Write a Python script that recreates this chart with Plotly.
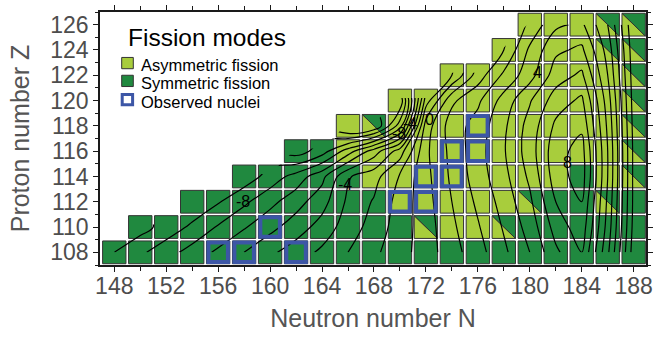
import plotly.graph_objects as go

# ---------------- data ----------------
N_VALUES = [148, 150, 152, 154, 156, 158, 160, 162, 164, 166, 168,
            170, 172, 174, 176, 178, 180, 182, 184, 186, 188]
Z_VALUES = [108, 110, 112, 114, 116, 118, 120, 122, 124, 126]
N_TICKS = [148, 152, 156, 160, 164, 168, 172, 176, 180, 184, 188]
Z_TICKS = [108, 110, 112, 114, 116, 118, 120, 122, 124, 126]

# first neutron number present in each proton row
ROW_FIRST_N = [148, 150, 154, 158, 162, 166, 170, 174, 178, 180]
# fission mode per cell: A = asymmetric, S = symmetric, T = mixed (split cell)
ROW_MODES = [
    "SSSSSSSSSSSSSSSSSSSSS",
    "SSSSSSSSSSSTAATSSSSS",
    "SSSSSSSSAAAAATSSTS",
    "SSSSSAAAAAAAASAT",
    "SSAAAAAAAAAAAT",
    "ATAAAAAAAAAT",
    "AAAAAAAAAT",
    "AAAAAAAT",
    "AAAATT",
    "AAATT",
]
# contour field values per row (from the first nucleus of the row to N=188)
CONTOUR_ROWS = [
    [-10, -9.2, -8.4, -7.6, -6.8, -6.0, -5.2, -4.5, -3.8, -3.0, -2.2, -1.4, -0.5, 0.6, 1.6, 2.8, 4.0, 5.8, 7.0, 3.2, -1.5],
    [-10.4, -9.6, -8.8, -7.9, -7.1, -6.3, -5.5, -4.6, -3.5, -2.6, -1.5, -0.5, 0.8, 1.9, 3.1, 4.4, 6.4, 7.6, 3.6, -1.3],
    [-9.8, -9.1, -8.2, -7.3, -6.4, -5.4, -3.8, -2.9, -1.6, -0.4, 1.0, 2.2, 3.4, 4.8, 7.0, 8.0, 3.8, -1.2],
    [-9.6, -8.6, -7.6, -6.3, -4.1, -3.4, -1.9, -0.3, 1.2, 2.5, 3.7, 5.2, 7.5, 8.5, 4.0, -1.2],
    [-10.5, -9.5, -7.5, -5.5, -3.5, -0.2, 1.3, 2.6, 3.9, 5.5, 7.6, 8.4, 4.0, -1.2],
    [-12.5, -12, -8.5, -0.5, 1.5, 2.4, 3.8, 5.4, 7.2, 7.8, 3.8, -1.3],
    [-10.8, -2.5, 0.8, 1.8, 3.4, 4.9, 6.5, 7.2, 3.5, -1.4],
    [-2.0, 0.5, 2.2, 3.6, 5.5, 6.2, 3.0, -1.5],
    [1.0, 3.2, 4.8, 5.2, 2.6, -1.6],
    [2.2, 3.8, 4.2, 2.0, -1.8],
]
# observed nuclei
OBS_N = [156, 158, 162, 160, 170, 172, 172, 174, 174, 176, 176]
OBS_Z = [108, 108, 108, 110, 112, 112, 114, 114, 116, 116, 118]
# contour labels
LABEL_TEXT = ["-8", "-4", "-8", "-4", "0", "4", "8"]
LABEL_N = [157.9, 165.8, 169.9, 170.8, 172.3, 180.6, 182.9]
LABEL_Z = [112.0, 113.4, 117.4, 118.2, 118.5, 122.2, 115.1]

LEGEND_TITLE = "Fission modes"
LEGEND_LABELS = ["Asymmetric fission", "Symmetric fission", "Observed nuclei"]

# ---------------- style ----------------
LIGHT = "#a8cd3c"
DARK = "#20893f"
BLUE = "#3c56a6"
EDGE = "#333333"
HX, HY = 0.9, 0.9
X_RANGE = [146.9, 188.95]
Y_RANGE = [107.0, 127.0]
W, H = 658, 340
ML, MR, MT, MB = 100, 12, 5, 75
PW, PH = W - ML - MR, H - MT - MB
FONT = "Liberation Sans, Arial, sans-serif"


def px_to_paper(px, py):
    return (px - ML) / PW, (H - MB - py) / PH


def path(pts):
    return "M " + " L ".join(f"{x},{y}" for x, y in pts) + " Z"


fig = go.Figure()
shapes = []
for z, n0, modes in zip(Z_VALUES, ROW_FIRST_N, ROW_MODES):
    for i, m in enumerate(modes):
        n = N_VALUES[N_VALUES.index(n0) + i]
        x0, x1, y0, y1 = n - HX, n + HX, z - HY, z + HY
        if m == "T":
            polys = [([(x0, y1), (x0, y0), (x1, y0)], LIGHT),
                     ([(x0, y1), (x1, y1), (x1, y0)], DARK)]
        else:
            polys = [([(x0, y0), (x1, y0), (x1, y1), (x0, y1)], LIGHT if m == "A" else DARK)]
        for pts, col in polys:
            shapes.append(dict(type="path", xref="x", yref="y", path=path(pts),
                               fillcolor=col, line=dict(color=EDGE, width=1),
                               layer="below"))

# contour field
zgrid = []
for n0, vals in zip(ROW_FIRST_N, CONTOUR_ROWS):
    pad = N_VALUES.index(n0)
    row = [None] * pad + list(vals)
    assert len(row) == len(N_VALUES)
    zgrid.append(row)

fig.add_trace(go.Contour(
    x=N_VALUES, y=Z_VALUES, z=zgrid,
    contours=dict(coloring="none", start=-11, end=9, size=1, showlabels=False),
    line=dict(color="black", width=1.2, smoothing=1.0),
    showscale=False, hoverinfo="skip",
))

# white mask over the region with no nuclei
mx, my = [X_RANGE[0] - 2], [Y_RANGE[1] + 2]
for z, n0 in reversed(list(zip(Z_VALUES, ROW_FIRST_N))):
    top = z + 1 if z != Z_VALUES[-1] else Y_RANGE[1] + 2
    mx += [n0 - 1, n0 - 1]
    my += [top, z - 1]
mx.append(X_RANGE[0] - 2)
my.append(Z_VALUES[0] - 1)
fig.add_trace(go.Scatter(x=mx, y=my, mode="lines", fill="toself",
                         fillcolor="white", line=dict(width=0, color="white"),
                         hoverinfo="skip", showlegend=False))

# observed nuclei
fig.add_trace(go.Scatter(
    x=OBS_N, y=OBS_Z, mode="markers",
    marker=dict(symbol="square-open", size=19.5, color=BLUE,
                line=dict(width=4, color=BLUE)),
    hoverinfo="skip", showlegend=False,
))

annotations = []
for t, n, z in zip(LABEL_TEXT, LABEL_N, LABEL_Z):
    annotations.append(dict(x=n, y=z, xref="x", yref="y", text=t, showarrow=False,
                            borderpad=0,
                            font=dict(family=FONT, size=16, color="black")))

# legend (drawn manually)
tx, ty = px_to_paper(127, 31.0)
annotations.append(dict(x=tx, y=ty, xref="paper", yref="paper", text=LEGEND_TITLE,
                        showarrow=False, xanchor="left", yanchor="middle", borderpad=0,
                        font=dict(family=FONT, size=24.5, color="black")))
item_text_y = [59.0, 78.0, 97.0]
item_box_y = [57.5, 75.8, 95.0]
for k, (lab, yt, yb) in enumerate(zip(LEGEND_LABELS, item_text_y, item_box_y)):
    ax, ay = px_to_paper(140.0, yt)
    annotations.append(dict(x=ax, y=ay, xref="paper", yref="paper", text=lab,
                            showarrow=False, xanchor="left", yanchor="middle",
                            borderpad=0,
                            font=dict(family=FONT, size=16.5, color="black")))
    if k < 2:
        half = 5.8
        x0, y0 = px_to_paper(127.5 - half, yb + half)
        x1, y1 = px_to_paper(127.5 + half, yb - half)
        shapes.append(dict(type="rect", xref="paper", yref="paper", x0=x0, x1=x1,
                           y0=y0, y1=y1, fillcolor=LIGHT if k == 0 else DARK,
                           line=dict(color=EDGE, width=1), layer="above"))
    else:
        half = 5.2
        x0, y0 = px_to_paper(127.4 - half, yb + half)
        x1, y1 = px_to_paper(127.4 + half, yb - half)
        shapes.append(dict(type="rect", xref="paper", yref="paper", x0=x0, x1=x1,
                           y0=y0, y1=y1, fillcolor="white",
                           line=dict(color=BLUE, width=3), layer="above"))

axis_common = dict(
    showline=True, linecolor="#1a1a1a", linewidth=1.5, mirror="ticks",
    ticks="outside", ticklen=5, tickwidth=1, tickcolor="#1a1a1a",
    showgrid=False, zeroline=False,
    tickfont=dict(family=FONT, size=23, color="#4d4d4d"),
)
fig.update_xaxes(
    range=X_RANGE, tickvals=N_TICKS, ticklabelstandoff=-5,
    minor=dict(tickvals=N_VALUES, ticklen=4, tickcolor="#1a1a1a", ticks="outside"),
    title=dict(text="Neutron number N", font=dict(family=FONT, size=25, color="#555555"),
               standoff=11),
    **axis_common,
)
fig.update_yaxes(
    range=Y_RANGE, tickvals=Z_TICKS,
    minor=dict(dtick=1, tick0=107, ticklen=3, tickcolor="#1a1a1a", ticks="outside"),
    title=dict(text="Proton number Z", font=dict(family=FONT, size=25, color="#555555"),
               standoff=14),
    **axis_common,
)
fig.update_layout(
    width=W, height=H,
    margin=dict(l=ML, r=MR, t=MT, b=MB),
    plot_bgcolor="white", paper_bgcolor="white",
    showlegend=False, shapes=shapes, annotations=annotations,
    font=dict(family=FONT),
)
fig.write_html("out.html")
